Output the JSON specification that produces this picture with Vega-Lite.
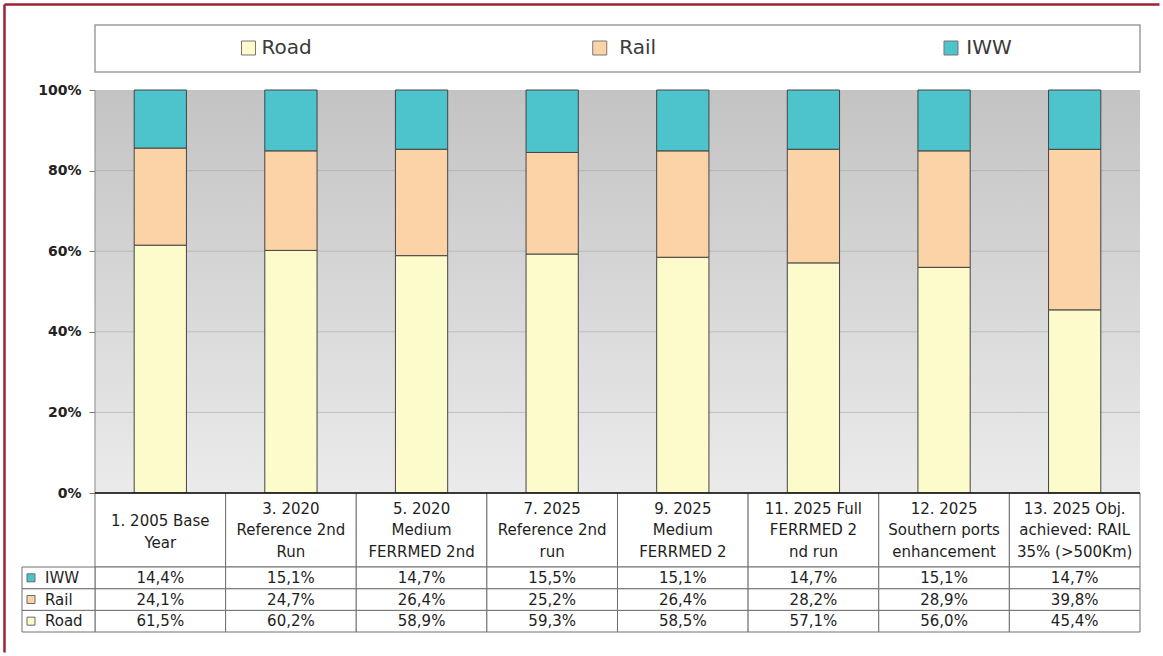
{
  "$schema": "https://vega.github.io/schema/vega-lite/v6.json",
  "width": 1155,
  "height": 648,
  "padding": 4,
  "autosize": {"type": "none"},
  "background": "#ffffff",
  "config": {
    "view": {"stroke": null},
    "font": "DejaVu Sans",
    "locale": {"number": {"decimal": ",", "thousands": ".", "grouping": [3], "currency": ["", " €"]}}
  },
  "data": {
    "values": [
      {"scenario": "1. 2005 Base\nYear", "mode": "Road", "share": 0.615},
      {"scenario": "1. 2005 Base\nYear", "mode": "Rail", "share": 0.241},
      {"scenario": "1. 2005 Base\nYear", "mode": "IWW", "share": 0.144},
      {"scenario": "3. 2020\nReference 2nd\nRun", "mode": "Road", "share": 0.602},
      {"scenario": "3. 2020\nReference 2nd\nRun", "mode": "Rail", "share": 0.247},
      {"scenario": "3. 2020\nReference 2nd\nRun", "mode": "IWW", "share": 0.151},
      {"scenario": "5. 2020\nMedium\nFERRMED 2nd", "mode": "Road", "share": 0.589},
      {"scenario": "5. 2020\nMedium\nFERRMED 2nd", "mode": "Rail", "share": 0.264},
      {"scenario": "5. 2020\nMedium\nFERRMED 2nd", "mode": "IWW", "share": 0.147},
      {"scenario": "7. 2025\nReference 2nd\nrun", "mode": "Road", "share": 0.593},
      {"scenario": "7. 2025\nReference 2nd\nrun", "mode": "Rail", "share": 0.252},
      {"scenario": "7. 2025\nReference 2nd\nrun", "mode": "IWW", "share": 0.155},
      {"scenario": "9. 2025\nMedium\nFERRMED 2", "mode": "Road", "share": 0.585},
      {"scenario": "9. 2025\nMedium\nFERRMED 2", "mode": "Rail", "share": 0.264},
      {"scenario": "9. 2025\nMedium\nFERRMED 2", "mode": "IWW", "share": 0.151},
      {"scenario": "11. 2025 Full\nFERRMED 2\nnd run", "mode": "Road", "share": 0.571},
      {"scenario": "11. 2025 Full\nFERRMED 2\nnd run", "mode": "Rail", "share": 0.282},
      {"scenario": "11. 2025 Full\nFERRMED 2\nnd run", "mode": "IWW", "share": 0.147},
      {"scenario": "12. 2025\nSouthern ports\nenhancement", "mode": "Road", "share": 0.560},
      {"scenario": "12. 2025\nSouthern ports\nenhancement", "mode": "Rail", "share": 0.289},
      {"scenario": "12. 2025\nSouthern ports\nenhancement", "mode": "IWW", "share": 0.151},
      {"scenario": "13. 2025 Obj.\nachieved: RAIL\n35% (>500Km)", "mode": "Road", "share": 0.454},
      {"scenario": "13. 2025 Obj.\nachieved: RAIL\n35% (>500Km)", "mode": "Rail", "share": 0.398},
      {"scenario": "13. 2025 Obj.\nachieved: RAIL\n35% (>500Km)", "mode": "IWW", "share": 0.147}
    ]
  },
  "resolve": {
    "scale": {"x": "independent", "y": "independent"},
    "axis": {"x": "independent", "y": "independent"}
  },
  "layer": [
    {
      "transform": [{"aggregate": [{"op": "count", "as": "n"}]}],
      "layer": [
        {
          "mark": {
            "type": "rect",
            "fill": {
              "gradient": "linear", "x1": 0, "y1": 0, "x2": 0, "y2": 1,
              "stops": [{"offset": 0, "color": "#c3c3c3"}, {"offset": 1, "color": "#ebebeb"}]
            }
          },
          "encoding": {
            "x": {"datum": 0, "type": "quantitative", "scale": {"domain": [-0.69665, 8.14545], "nice": false, "zero": false}, "axis": null},
            "x2": {"datum": 8},
            "y": {
              "datum": 0, "type": "quantitative",
              "scale": {"domain": [-0.39454, 1.2134], "nice": false, "zero": false},
              "axis": {
                "orient": "left", "offset": -91, "values": [0, 0.2, 0.4, 0.6, 0.8, 1],
                "format": ".0%", "domain": false, "grid": false, "ticks": true, "tickSize": 6,
                "tickColor": "#777777", "labelFont": "DejaVu Sans", "labelFontSize": 14,
                "labelFontWeight": "bold", "labelColor": "#222222", "labelPadding": 8, "title": null
              }
            },
            "y2": {"datum": 1}
          }
        },
        {
          "mark": {"type": "rule", "stroke": "#a0a0a0", "strokeWidth": 1, "opacity": 0.5},
          "encoding": {"x": {"datum": 0, "type": "quantitative"}, "x2": {"datum": 8}, "y": {"datum": 0.2, "type": "quantitative"}}
        },
        {
          "mark": {"type": "rule", "stroke": "#a0a0a0", "strokeWidth": 1, "opacity": 0.5},
          "encoding": {"x": {"datum": 0, "type": "quantitative"}, "x2": {"datum": 8}, "y": {"datum": 0.4, "type": "quantitative"}}
        },
        {
          "mark": {"type": "rule", "stroke": "#a0a0a0", "strokeWidth": 1, "opacity": 0.5},
          "encoding": {"x": {"datum": 0, "type": "quantitative"}, "x2": {"datum": 8}, "y": {"datum": 0.6, "type": "quantitative"}}
        },
        {
          "mark": {"type": "rule", "stroke": "#a0a0a0", "strokeWidth": 1, "opacity": 0.5},
          "encoding": {"x": {"datum": 0, "type": "quantitative"}, "x2": {"datum": 8}, "y": {"datum": 0.8, "type": "quantitative"}}
        },
        {
          "mark": {"type": "rule", "stroke": "#8a8a8a", "strokeWidth": 1},
          "encoding": {"x": {"datum": 0, "type": "quantitative"}, "y": {"datum": 0, "type": "quantitative"}, "y2": {"datum": 1}}
        },
        {
          "mark": {"type": "rect", "fill": "#ffffff", "stroke": "#9d9d9d", "strokeWidth": 1.5},
          "encoding": {"x": {"datum": 0, "type": "quantitative"}, "x2": {"datum": 8}, "y": {"datum": 1.16129, "type": "quantitative"}, "y2": {"datum": 1.04467}}
        }
      ]
    },
    {
      "layer": [
        {
          "mark": {"type": "bar", "width": {"band": 0.4}, "stroke": "#444444", "strokeWidth": 1},
          "encoding": {
            "x": {"field": "scenario", "type": "nominal", "sort": null, "scale": {"type": "band", "paddingInner": 0, "paddingOuter": 0.42105, "align": 0.82727}, "axis": null},
            "y": {
              "field": "share", "type": "quantitative", "stack": "normalize",
              "scale": {"domain": [-0.39454, 1.2134], "nice": false, "zero": false},
              "axis": {"orient": "left", "domain": true, "domainColor": "#9e2236", "domainWidth": 2.5, "ticks": false, "labels": false, "title": null, "grid": false}
            },
            "color": {"field": "mode", "type": "nominal", "scale": {"domain": ["Road", "Rail", "IWW"], "range": ["#fdfacc", "#fcd3a6", "#4dc4cb"]}, "legend": null},
            "order": {"field": "mode", "sort": "descending"}
          }
        },
        {
          "transform": [{"filter": "datum.mode == 'Road'"}],
          "mark": {"type": "rect", "fill": "#ffffff", "stroke": "#707070", "strokeWidth": 1},
          "encoding": {
            "x": {"field": "scenario", "type": "nominal", "sort": null},
            "y": {"datum": 0, "type": "quantitative"},
            "y2": {"datum": -0.18362}
          }
        },
        {
          "transform": [{"filter": "datum.mode == 'Road' && datum.scenario == '1. 2005 Base\\nYear'"}],
          "mark": {"type": "text", "lineBreak": "\n", "fontSize": 15, "lineHeight": 21.5, "baseline": "middle", "align": "center", "color": "#1e1e1e"},
          "encoding": {
            "x": {"field": "scenario", "type": "nominal", "sort": null},
            "y": {"datum": -0.0695, "type": "quantitative"},
            "text": {"field": "scenario"}
          }
        },
        {
          "transform": [{"filter": "datum.mode == 'Road' && datum.scenario != '1. 2005 Base\\nYear'"}],
          "mark": {"type": "text", "lineBreak": "\n", "fontSize": 15, "lineHeight": 21.5, "baseline": "middle", "align": "center", "color": "#1e1e1e"},
          "encoding": {
            "x": {"field": "scenario", "type": "nominal", "sort": null},
            "y": {"datum": -0.0397, "type": "quantitative"},
            "text": {"field": "scenario"}
          }
        }
      ]
    },
    {
      "layer": [
        {
          "mark": {"type": "rect", "fill": "#ffffff", "stroke": "#707070", "strokeWidth": 1},
          "encoding": {
            "x": {"field": "scenario", "type": "nominal", "sort": null, "scale": {"type": "band", "paddingInner": 0, "paddingOuter": 0.42105, "align": 0.82727}, "axis": null},
            "y": {"field": "mode", "type": "nominal", "scale": {"type": "band", "domain": ["IWW", "Rail", "Road"], "range": [563, 628], "paddingInner": 0, "paddingOuter": 0}, "axis": null}
          }
        },
        {
          "mark": {"type": "text", "fontSize": 15, "color": "#1e1e1e", "baseline": "middle", "align": "center"},
          "encoding": {
            "x": {"field": "scenario", "type": "nominal", "sort": null},
            "y": {"field": "mode", "type": "nominal"},
            "text": {"field": "share", "type": "quantitative", "format": ".1%"}
          }
        }
      ]
    },
    {
      "transform": [{"aggregate": [{"op": "count", "as": "n"}], "groupby": ["mode"]}],
      "layer": [
        {
          "mark": {"type": "rect", "fill": "#ffffff", "stroke": "#707070", "strokeWidth": 1},
          "encoding": {
            "x": {"datum": -0.55885, "type": "quantitative", "scale": {"domain": [-0.69665, 8.14545], "nice": false, "zero": false}, "axis": null},
            "x2": {"datum": 0},
            "y": {"field": "mode", "type": "nominal", "scale": {"type": "band", "domain": ["IWW", "Rail", "Road"], "range": [563, 628], "paddingInner": 0, "paddingOuter": 0}, "axis": null}
          }
        },
        {
          "mark": {"type": "point", "shape": "square", "filled": true, "size": 64, "stroke": "#6a6a6a", "strokeWidth": 1, "opacity": 1},
          "encoding": {
            "x": {"datum": -0.48995, "type": "quantitative"},
            "y": {"field": "mode", "type": "nominal"},
            "color": {"field": "mode", "type": "nominal"}
          }
        },
        {
          "mark": {"type": "text", "align": "left", "baseline": "middle", "fontSize": 15, "color": "#1e1e1e"},
          "encoding": {
            "x": {"datum": -0.38277, "type": "quantitative"},
            "y": {"field": "mode", "type": "nominal"},
            "text": {"field": "mode"}
          }
        }
      ]
    },
    {
      "transform": [{"aggregate": [{"op": "count", "as": "n"}], "groupby": ["mode"]}],
      "layer": [
        {
          "mark": {"type": "point", "shape": "square", "filled": true, "size": 196, "stroke": "#777777", "strokeWidth": 1, "opacity": 1, "xOffset": -38},
          "encoding": {
            "x": {
              "field": "mode", "type": "nominal",
              "scale": {"type": "point", "domain": ["Road", "Rail", "IWW"], "padding": 0.64413, "align": 0.6243},
              "axis": {"orient": "top", "domain": true, "domainColor": "#9e2236", "domainWidth": 2.5, "ticks": false, "labels": false, "title": null, "grid": false}
            },
            "y": {"datum": 1.1042, "type": "quantitative", "scale": {"domain": [-0.39454, 1.2134], "nice": false, "zero": false}, "axis": null},
            "color": {"field": "mode", "type": "nominal"}
          }
        },
        {
          "mark": {"type": "text", "fontSize": 20, "color": "#3a3a3a", "align": "center", "baseline": "middle"},
          "encoding": {
            "x": {"field": "mode", "type": "nominal"},
            "y": {"datum": 1.1042, "type": "quantitative"},
            "text": {"field": "mode"}
          }
        }
      ]
    },
    {
      "transform": [{"aggregate": [{"op": "count", "as": "n"}]}],
      "mark": {"type": "rule", "stroke": "#111111", "strokeWidth": 1.5},
      "encoding": {
        "x": {"datum": 0, "type": "quantitative", "scale": {"domain": [-0.69665, 8.14545], "nice": false, "zero": false}, "axis": null},
        "x2": {"datum": 8},
        "y": {"datum": 0, "type": "quantitative", "scale": {"domain": [-0.39454, 1.2134], "nice": false, "zero": false}, "axis": null}
      }
    }
  ]
}
